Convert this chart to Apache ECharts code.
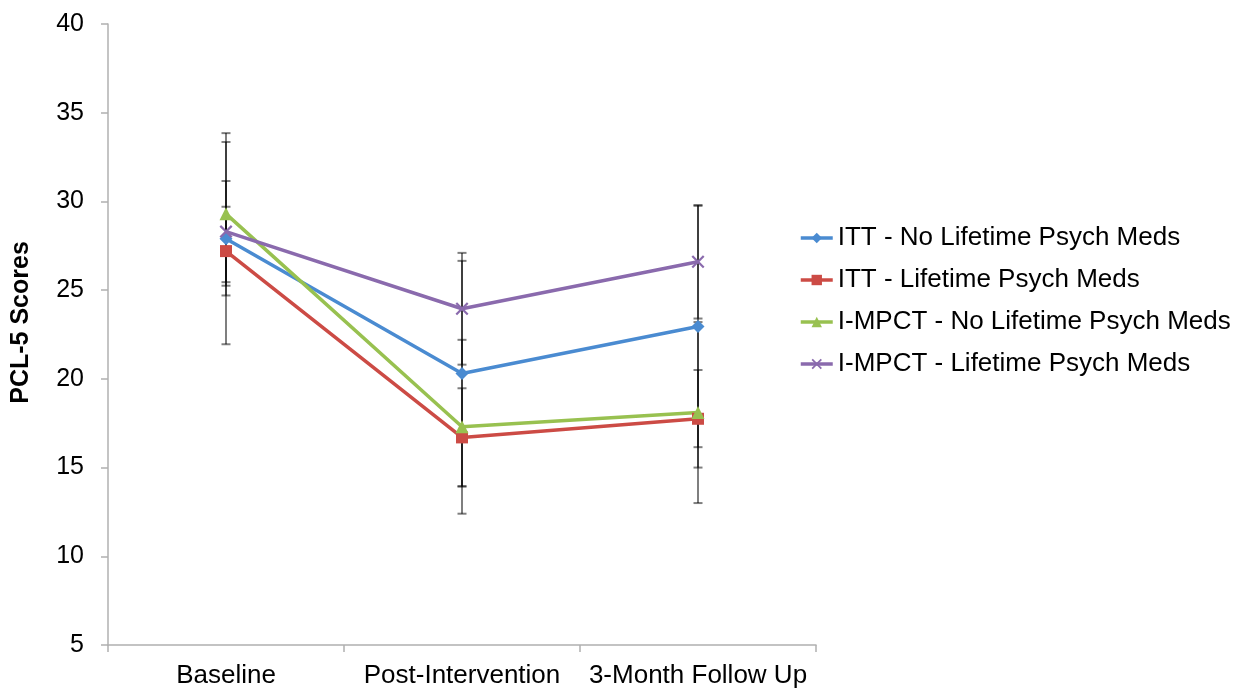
<!DOCTYPE html>
<html>
<head>
<meta charset="utf-8">
<script src="https://cdn.jsdelivr.net/npm/echarts@6/dist/echarts.min.js"></script>
<style>
html,body{margin:0;padding:0;background:#fff;}
#chart{width:1246px;height:692px;}
</style>
</head>
<body>
<div id="chart"></div>
<script>
const categories = ['Baseline', 'Post-Intervention', '3-Month Follow Up'];
const seriesNames = [
  'ITT - No Lifetime Psych Meds',
  'ITT - Lifetime Psych Meds',
  'I-MPCT - No Lifetime Psych Meds',
  'I-MPCT - Lifetime Psych Meds'
];
const ittNoMeds = [27.9, 20.3, 22.95];
const ittNoMedsErr = [5.95, 6.35, 6.8];
const ittMeds = [27.2, 16.7, 17.75];
const ittMedsErr = [2.5, 2.77, 2.75];
const impctNoMeds = [29.3, 17.3, 18.1];
const impctNoMedsErr = [4.05, 4.9, 5.1];
const impctMeds = [28.3, 23.95, 26.6];
const impctMedsErr = [2.85, 3.15, 3.2];
const yTicks = [5, 10, 15, 20, 25, 30, 35, 40];

const colors = ['#4a8bd1', '#cc4b45', '#98c150', '#8a6aad'];
const symbols = [
  'diamond',
  'rect',
  'triangle',
  'path://M0,1.2L1.2,0L5,3.8L8.8,0L10,1.2L6.2,5L10,8.8L8.8,10L5,6.2L1.2,10L0,8.8L3.8,5Z'
];
const symbolSizes = [13, 12, 13, 13];
const means = [ittNoMeds, ittMeds, impctNoMeds, impctMeds];
const errs = [ittNoMedsErr, ittMedsErr, impctNoMedsErr, impctMedsErr];

const font = '"Liberation Sans", Arial, Helvetica, sans-serif';

function errRender(params, api) {
  const x = api.value(0);
  const lo = api.coord([x, api.value(1)]);
  const hi = api.coord([x, api.value(2)]);
  const w = 4.5;
  const st = { stroke: 'rgba(0,0,0,0.5)', lineWidth: 2 };
  return {
    type: 'group',
    children: [
      { type: 'line', shape: { x1: lo[0], y1: lo[1], x2: hi[0], y2: hi[1] }, style: st },
      { type: 'line', shape: { x1: hi[0] - w, y1: hi[1], x2: hi[0] + w, y2: hi[1] }, style: st },
      { type: 'line', shape: { x1: lo[0] - w, y1: lo[1], x2: lo[0] + w, y2: lo[1] }, style: st }
    ]
  };
}

const series = [];
means.forEach((m, i) => {
  series.push({
    type: 'custom',
    name: seriesNames[i] + ' err',
    renderItem: errRender,
    silent: true,
    z: 1,
    encode: { x: 0, y: [1, 2] },
    data: m.map((v, j) => [j, v - errs[i][j], v + errs[i][j]])
  });
});
means.forEach((m, i) => {
  series.push({
    type: 'line',
    name: seriesNames[i],
    data: m,
    z: 3,
    symbol: symbols[i],
    symbolSize: symbolSizes[i],
    showSymbol: true,
    lineStyle: { color: colors[i], width: 3.5 },
    itemStyle: { color: colors[i] },
    emphasis: { disabled: true }
  });
});

const chart = echarts.init(document.getElementById('chart'), null, { renderer: 'canvas' });
chart.setOption({
  animation: false,
  backgroundColor: '#ffffff',
  textStyle: { fontFamily: font },
  grid: { left: 108, right: 430, top: 24, bottom: 47, containLabel: false },
  legend: {
    data: seriesNames,
    orient: 'vertical',
    left: 794,
    top: 218,
    itemWidth: 32,
    itemHeight: 13,
    itemGap: 12,
    selectedMode: false,
    lineStyle: { width: 3.5 },
    textStyle: { fontFamily: font, fontSize: 26, color: '#000', lineHeight: 30 }
  },
  xAxis: {
    type: 'category',
    data: categories,
    boundaryGap: true,
    axisLine: { lineStyle: { color: '#b0b0b0', width: 1.5 } },
    axisTick: { show: true, length: 7, lineStyle: { color: '#b0b0b0', width: 1.5 } },
    axisLabel: { color: '#000', fontSize: 26, fontFamily: font, margin: 18, interval: 0 },
    splitLine: { show: false }
  },
  yAxis: {
    type: 'value',
    min: yTicks[0],
    max: yTicks[yTicks.length - 1],
    interval: 5,
    name: 'PCL-5 Scores',
    nameLocation: 'middle',
    nameRotate: 90,
    nameGap: 74,
    nameTextStyle: { color: '#000', fontSize: 25, fontWeight: 'bold', fontFamily: font, padding: [0, 0, 0, 24] },
    axisLine: { show: true, lineStyle: { color: '#b0b0b0', width: 1.5 } },
    axisTick: { show: true, length: 7, lineStyle: { color: '#b0b0b0', width: 1.5 } },
    axisLabel: { color: '#000', fontSize: 25, fontFamily: font, margin: 24 },
    splitLine: { show: false }
  },
  series: series
});
</script>
</body>
</html>
